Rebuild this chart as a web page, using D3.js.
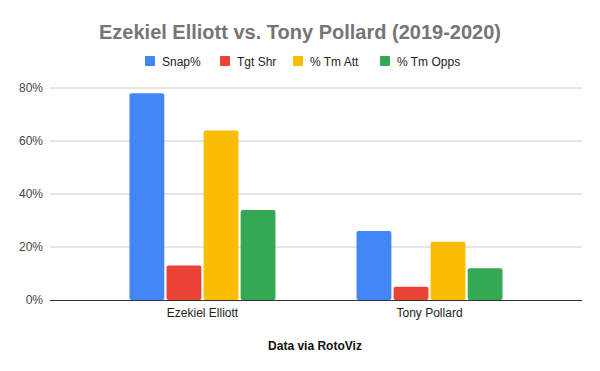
<!DOCTYPE html>
<html>
<head>
<meta charset="utf-8">
<script src="https://cdn.jsdelivr.net/npm/d3@7"></script>
<style>
  body { margin: 0; background: #fff; }
  text { font-family: "Liberation Sans", Arial, sans-serif; }
</style>
</head>
<body>
<div id="chart-area"></div>
<script>
// data
const players = ["Ezekiel Elliott", "Tony Pollard"]
const seriesNames = ["Snap%", "Tgt Shr", "% Tm Att", "% Tm Opps"]
const seriesColors = ["#4285f4", "#ea4335", "#fbbc04", "#34a853"]
const snapPct = [78, 26]
const tgtShr = [13, 5]
const tmAtt = [64, 22]
const tmOpps = [34, 12]
const yTicks = [0, 20, 40, 60, 80]

const allSeries = [snapPct, tgtShr, tmAtt, tmOpps]

const WIDTH = 600
const HEIGHT = 371
const MARGIN = { LEFT: 50, RIGHT: 18, TOP: 88, BOTTOM: 71 }
const W = WIDTH - MARGIN.LEFT - MARGIN.RIGHT
const H = HEIGHT - MARGIN.TOP - MARGIN.BOTTOM

const svg = d3.select("#chart-area").append("svg")
  .attr("width", WIDTH)
  .attr("height", HEIGHT)

// title
svg.append("text")
  .attr("x", 300)
  .attr("y", 39)
  .attr("text-anchor", "middle")
  .attr("font-size", "20px")
  .attr("font-weight", "bold")
  .attr("fill", "#757575")
  .text("Ezekiel Elliott vs. Tony Pollard (2019-2020)")

// legend
const legendX = [145, 220, 293, 380]
const legend = svg.selectAll(".legend")
  .data(seriesNames)
  .enter().append("g")
  .attr("class", "legend")
  .attr("transform", (d, i) => `translate(${legendX[i]}, 56)`)
legend.append("rect")
  .attr("width", 10)
  .attr("height", 10)
  .attr("rx", 1)
  .attr("fill", (d, i) => seriesColors[i])
legend.append("text")
  .attr("x", 17)
  .attr("y", 9.5)
  .attr("font-size", "12px")
  .attr("fill", "#222")
  .text(d => d)

const g = svg.append("g")
  .attr("transform", `translate(${MARGIN.LEFT}, ${MARGIN.TOP})`)

const y = d3.scaleLinear()
  .domain([0, 80])
  .range([H, 0])

const x0 = d3.scaleBand()
  .domain(players)
  .range([0, W])
  .paddingInner(0.357)
  .paddingOuter(0.35)

const x1 = d3.scaleBand()
  .domain(seriesNames)
  .range([0, x0.bandwidth()])
  .paddingInner(0.06)

// gridlines
g.selectAll(".grid")
  .data(yTicks.filter(d => d > 0))
  .enter().append("line")
  .attr("class", "grid")
  .attr("x1", 0)
  .attr("x2", W)
  .attr("y1", d => y(d))
  .attr("y2", d => y(d))
  .attr("stroke", "#cccccc")
  .attr("stroke-width", 1)

// y axis labels
const yAxisCall = d3.axisLeft(y)
  .tickValues(yTicks)
  .tickSize(0)
  .tickPadding(7)
  .tickFormat(d => d + "%")
g.append("g")
  .attr("class", "y axis")
  .call(yAxisCall)
  .call(a => a.select(".domain").remove())
  .selectAll("text")
    .attr("font-size", "12px")
    .attr("fill", "#444")
    .attr("font-family", "Liberation Sans, Arial, sans-serif")

// bars
const groups = g.selectAll(".player")
  .data(players)
  .enter().append("g")
  .attr("class", "player")
  .attr("transform", d => `translate(${x0(d)}, 0)`)

groups.selectAll("rect")
  .data((d, pi) => seriesNames.map((s, si) => ({ s, v: allSeries[si][pi], c: seriesColors[si] })))
  .enter().append("rect")
  .attr("x", d => x1(d.s))
  .attr("y", d => y(d.v))
  .attr("width", x1.bandwidth())
  .attr("height", d => H - y(d.v))
  .attr("fill", d => d.c)
  .attr("rx", 2)

// baseline
g.append("line")
  .attr("x1", 0)
  .attr("x2", W)
  .attr("y1", H + 0.5)
  .attr("y2", H + 0.5)
  .attr("stroke", "#333")
  .attr("stroke-width", 1)

// x axis labels
const xAxisCall = d3.axisBottom(x0)
  .tickSize(0)
  .tickPadding(8)
g.append("g")
  .attr("class", "x axis")
  .attr("transform", `translate(0, ${H})`)
  .call(xAxisCall)
  .call(a => a.select(".domain").remove())
  .selectAll("text")
    .attr("font-size", "12px")
    .attr("fill", "#222")
    .attr("font-family", "Liberation Sans, Arial, sans-serif")

// x axis title
svg.append("text")
  .attr("x", 315)
  .attr("y", 350)
  .attr("text-anchor", "middle")
  .attr("font-size", "12px")
  .attr("font-weight", "bold")
  .attr("fill", "#111")
  .text("Data via RotoViz")
</script>
</body>
</html>
